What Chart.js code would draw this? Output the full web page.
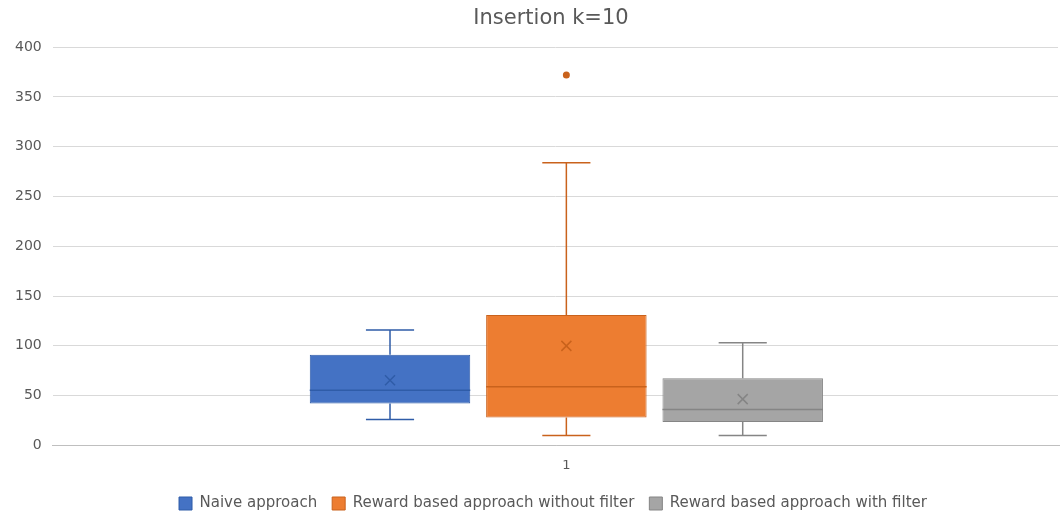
<!DOCTYPE html>
<html>
<head>
<meta charset="utf-8">
<script src="https://cdn.jsdelivr.net/npm/chart.js@4.4.0/dist/chart.umd.min.js"></script>
<style>
  body { margin: 0; background: #fff; }
  #wrap { width: 1060px; height: 514px; }
</style>
</head>
<body>
<div id="wrap"><canvas id="boxGraph"></canvas></div>
<script>
// five-number summaries per approach, plus mean and outliers
const categories = ["1"];
const seriesNames = ["Naive approach", "Reward based approach without filter", "Reward based approach with filter"];
const mins    = [26, 10, 10];
const q1s     = [42, 28, 23.5];
const medians = [55.5, 59, 36];
const q3s     = [91, 131, 67.5];
const maxs    = [116, 284, 103];
const means   = [65.5, 100, 46.5];
const outliers = [[], [372], []];
const yTicks = [0, 400, 50];

const fills = ['#4472C4', '#ED7D31', '#A5A5A5'];
const strokes = ['#2F5CA8', '#C9621C', '#858585'];
const fontFam = 'DejaVu Sans';

// plot area runs past the right edge, so the category centre sits right of the middle;
// title and legend are nudged to stay centred under it, and the plot is stretched
// down into the legend's spare padding
const shiftLayout = {
    id: 'shiftLayout',
    afterLayout(chart) {
        const x = chart.scales.x;
        const y = chart.scales.y;
        const dy = 11;
        y.bottom += dy;
        y.height += dy;
        y._labelItems = null;
        y._gridLineItems = null;
        y.configure();
        chart.chartArea.bottom += dy;
        chart.chartArea.height += dy;
        x.top += dy;
        x.bottom += dy;
        x.right += 22;
        x.width += 22;
        x._labelItems = null;
        x.configure();
        chart.titleBlock.left += 20;
        chart.titleBlock.right += 20;
        chart.legend.left += 22;
        chart.legend.right += 22;
        chart.legend.top += 7;
        chart.legend.bottom += 7;
    }
};

// whiskers, median line, mean cross and outlier dots on top of the floating bars
const boxExtras = {
    id: 'boxExtras',
    afterDatasetsDraw(chart) {
        const ctx = chart.ctx;
        const y = chart.scales.y;
        chart.data.datasets.forEach((ds, i) => {
            const bar = chart.getDatasetMeta(i).data[0];
            const cx = bar.x;
            const half = bar.width / 2;
            const cap = bar.width * 0.15;
            ctx.save();
            ctx.strokeStyle = strokes[i];
            ctx.lineWidth = 1.5;
            ctx.beginPath();
            // upper whisker
            ctx.moveTo(cx, y.getPixelForValue(q3s[i]));
            ctx.lineTo(cx, y.getPixelForValue(maxs[i]));
            ctx.moveTo(cx - cap, y.getPixelForValue(maxs[i]));
            ctx.lineTo(cx + cap, y.getPixelForValue(maxs[i]));
            // lower whisker
            ctx.moveTo(cx, y.getPixelForValue(q1s[i]));
            ctx.lineTo(cx, y.getPixelForValue(mins[i]));
            ctx.moveTo(cx - cap, y.getPixelForValue(mins[i]));
            ctx.lineTo(cx + cap, y.getPixelForValue(mins[i]));
            // median
            ctx.moveTo(cx - half, y.getPixelForValue(medians[i]));
            ctx.lineTo(cx + half, y.getPixelForValue(medians[i]));
            // mean cross
            const my = y.getPixelForValue(means[i]);
            ctx.moveTo(cx - 5, my - 5);
            ctx.lineTo(cx + 5, my + 5);
            ctx.moveTo(cx + 5, my - 5);
            ctx.lineTo(cx - 5, my + 5);
            ctx.stroke();
            ctx.fillStyle = strokes[i];
            outliers[i].forEach(v => {
                ctx.beginPath();
                ctx.arc(cx, y.getPixelForValue(v), 3.5, 0, Math.PI * 2);
                ctx.fill();
            });
            ctx.restore();
        });
    }
};

var box = new Chart(document.getElementById('boxGraph'),
{
    type: 'bar',
    data: {
        labels: categories,
        datasets: seriesNames.map((name, i) => ({
            label: name,
            data: [[q1s[i], q3s[i]]],
            backgroundColor: fills[i],
            borderColor: strokes[i],
            borderWidth: 1,
            borderSkipped: false,
            categoryPercentage: 0.515,
            barPercentage: 0.91
        }))
    },
    options: {
        responsive: true,
        maintainAspectRatio: false,
        animation: false,
        layout: { padding: { left: 4, right: 2, top: 6, bottom: 0 } },
        plugins: {
            title: {
                display: true,
                text: 'Insertion k=10',
                color: '#595959',
                font: { family: fontFam, size: 21, weight: 'normal' },
                padding: { top: 0, bottom: 16 }
            },
            legend: {
                position: 'bottom',
                labels: {
                    color: '#595959',
                    font: { family: fontFam, size: 15 },
                    boxWidth: 13,
                    boxHeight: 13,
                    padding: 15
                }
            },
            tooltip: { enabled: false }
        },
        scales: {
            x: {
                grid: { display: false, drawTicks: false },
                border: { color: '#bfbfbf' },
                ticks: { color: '#595959', font: { family: fontFam, size: 13 }, padding: 12 }
            },
            y: {
                min: yTicks[0],
                max: yTicks[1],
                ticks: { stepSize: yTicks[2], color: '#595959', font: { family: fontFam, size: 14 }, padding: 11 },
                grid: { color: '#d9d9d9', drawTicks: false },
                border: { display: false }
            }
        }
    },
    plugins: [shiftLayout, boxExtras]
});
</script>
</body>
</html>
